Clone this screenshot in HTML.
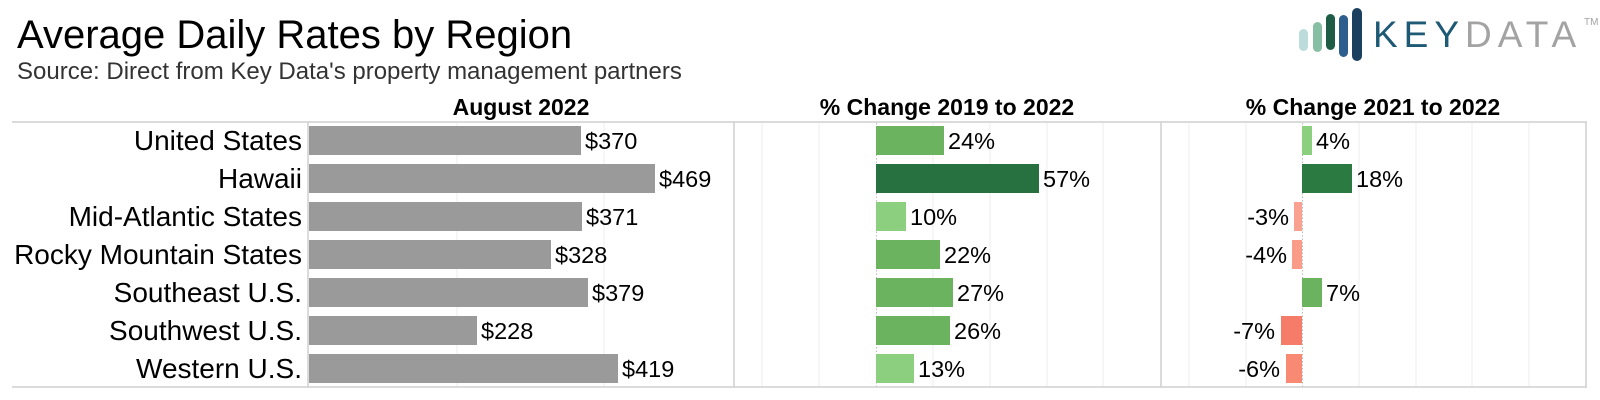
<!DOCTYPE html>
<html><head><meta charset="utf-8"><style>
html,body{margin:0;padding:0;background:#fff;}
svg{display:block;font-family:"Liberation Sans",sans-serif;}
</style></head><body>
<svg width="1600" height="400" viewBox="0 0 1600 400" xmlns="http://www.w3.org/2000/svg">
<text x="17" y="48" font-size="40" fill="#000">Average Daily Rates by Region</text>
<text x="17" y="79" font-size="24" fill="#333">Source: Direct from Key Data's property management partners</text>
<!-- logo -->
<rect x="1299" y="29" width="9" height="22" rx="4.5" fill="#bcdcdc"/>
<rect x="1313" y="22" width="9" height="30" rx="4.5" fill="#86bfa3"/>
<rect x="1326" y="14" width="9" height="36" rx="4.5" fill="#1f5c45"/>
<rect x="1339" y="15" width="9" height="42" rx="4.5" fill="#2d5f8e"/>
<rect x="1352" y="8" width="10" height="53" rx="5" fill="#1b3f5e"/>
<text x="1373" y="47" font-size="37" letter-spacing="6" fill="#1f5a75">KEY<tspan fill="#a3a3a3">DATA</tspan></text>
<text x="1584" y="25" font-size="10" fill="#a3a3a3">TM</text>
<!-- headers -->
<g font-size="23" font-weight="bold" text-anchor="middle">
<text x="521" y="115">August 2022</text>
<text x="947" y="115">% Change 2019 to 2022</text>
<text x="1373" y="115">% Change 2021 to 2022</text>
</g>
<!-- gridlines -->
<g stroke="#ececec" stroke-width="1">
<line x1="457" y1="123" x2="457" y2="387"/><line x1="604" y1="123" x2="604" y2="387"/>
<line x1="762" y1="123" x2="762" y2="387"/><line x1="819" y1="123" x2="819" y2="387"/>
<line x1="933" y1="123" x2="933" y2="387"/><line x1="990" y1="123" x2="990" y2="387"/>
<line x1="1047" y1="123" x2="1047" y2="387"/><line x1="1103" y1="123" x2="1103" y2="387"/>
<line x1="1189" y1="123" x2="1189" y2="387"/><line x1="1246" y1="123" x2="1246" y2="387"/>
<line x1="1359" y1="123" x2="1359" y2="387"/><line x1="1416" y1="123" x2="1416" y2="387"/>
<line x1="1472" y1="123" x2="1472" y2="387"/><line x1="1529" y1="123" x2="1529" y2="387"/>
</g>
<g stroke="#bbb" stroke-width="1" stroke-dasharray="1.5,2">
<line x1="876.5" y1="123" x2="876.5" y2="387"/><line x1="1302.5" y1="123" x2="1302.5" y2="387"/>
</g>
<g stroke="#cfcfcf" stroke-width="1.5" fill="none">
<line x1="12" y1="122" x2="1587" y2="122"/>
<line x1="12" y1="387" x2="1587" y2="387"/>
<line x1="308" y1="122" x2="308" y2="387"/>
<line x1="734" y1="122" x2="734" y2="387"/>
<line x1="1161" y1="122" x2="1161" y2="387"/>
<line x1="1586" y1="122" x2="1586" y2="387"/>
</g>
<!-- row labels -->
<g font-size="28" text-anchor="end" fill="#000">
<text x="302" y="150">United States</text>
<text x="302" y="188">Hawaii</text>
<text x="302" y="226">Mid-Atlantic States</text>
<text x="302" y="264">Rocky Mountain States</text>
<text x="302" y="302">Southeast U.S.</text>
<text x="302" y="340">Southwest U.S.</text>
<text x="302" y="378">Western U.S.</text>
</g>
<!-- panel 1 -->
<g fill="#9a9a9a">
<rect x="309" y="126" width="272" height="29"/>
<rect x="309" y="164" width="346" height="29"/>
<rect x="309" y="202" width="273" height="29"/>
<rect x="309" y="240" width="242" height="29"/>
<rect x="309" y="278" width="279" height="29"/>
<rect x="309" y="316" width="168" height="29"/>
<rect x="309" y="354" width="309" height="29"/>
</g>
<g font-size="23.5" fill="#000">
<text x="585" y="149">$370</text>
<text x="659" y="187">$469</text>
<text x="586" y="225">$371</text>
<text x="555" y="263">$328</text>
<text x="592" y="301">$379</text>
<text x="481" y="339">$228</text>
<text x="622" y="377">$419</text>
</g>
<!-- panel 2 -->
<rect x="876" y="126" width="68" height="29" fill="#6cb35f"/>
<rect x="876" y="164" width="163" height="29" fill="#277140"/>
<rect x="876" y="202" width="30" height="29" fill="#8ccf7e"/>
<rect x="876" y="240" width="64" height="29" fill="#6cb35f"/>
<rect x="876" y="278" width="77" height="29" fill="#6cb35f"/>
<rect x="876" y="316" width="74" height="29" fill="#6cb35f"/>
<rect x="876" y="354" width="38" height="29" fill="#8ccf7e"/>
<g font-size="23.5" fill="#000">
<text x="948" y="149">24%</text>
<text x="1043" y="187">57%</text>
<text x="910" y="225">10%</text>
<text x="944" y="263">22%</text>
<text x="957" y="301">27%</text>
<text x="954" y="339">26%</text>
<text x="918" y="377">13%</text>
</g>
<!-- panel 3 -->
<rect x="1302" y="126" width="10" height="29" fill="#8ccf7e"/>
<rect x="1302" y="164" width="50" height="29" fill="#2b7a42"/>
<rect x="1294" y="202" width="8" height="29" fill="#f9a291"/>
<rect x="1292" y="240" width="10" height="29" fill="#fa9c87"/>
<rect x="1302" y="278" width="20" height="29" fill="#6cb35f"/>
<rect x="1281" y="316" width="21" height="29" fill="#f47c68"/>
<rect x="1286" y="354" width="16" height="29" fill="#f88a74"/>
<g font-size="23.5" fill="#000">
<text x="1316" y="149">4%</text>
<text x="1356" y="187">18%</text>
<text x="1289" y="225" text-anchor="end">-3%</text>
<text x="1287" y="263" text-anchor="end">-4%</text>
<text x="1326" y="301">7%</text>
<text x="1275" y="339" text-anchor="end">-7%</text>
<text x="1280" y="377" text-anchor="end">-6%</text>
</g>
</svg>
</body></html>
